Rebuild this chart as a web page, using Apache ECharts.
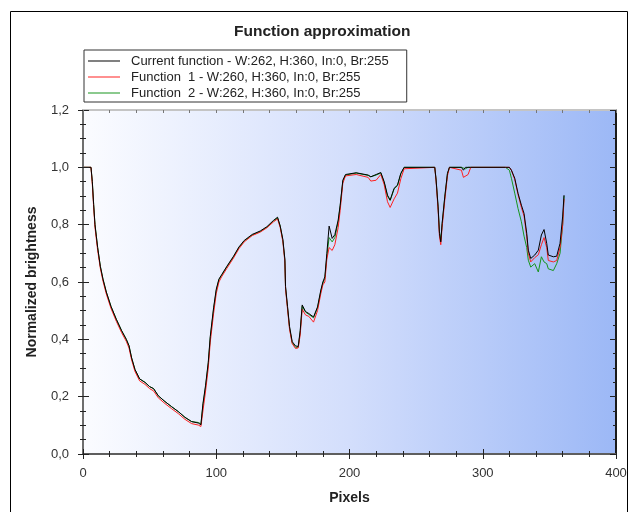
<!DOCTYPE html>
<html>
<head>
<meta charset="utf-8">
<script src="https://cdn.jsdelivr.net/npm/echarts@6/dist/echarts.min.js"></script>
<style>
  html, body { margin: 0; padding: 0; background: #fff; }
  #chart { width: 630px; height: 512px; }
</style>
</head>
<body>
<div id="chart"></div>
<script>
// sample positions (pixels) shared by the three curves
const pixels = [
  0, 6, 7, 8, 9, 10, 11, 13, 15, 17.5, 21, 25, 29, 32.5, 34.5, 36.5, 39, 42.5, 46.5, 50,
  53, 56.5, 61.5, 66.5, 71.5, 76.5, 81.5, 86.5, 88.5, 90, 92, 94, 95.5, 98, 100, 102, 104, 108, 113, 117,
  121, 127, 133, 138, 143, 146, 148, 150, 151.5, 152, 153.5, 155, 157, 159.5, 161.5, 163, 164.5, 167, 169.5, 173,
  176, 178.5, 180, 181.5, 183, 184.7, 187, 189, 191.5, 193, 195, 197, 205, 214, 216, 220, 223.5, 226, 228.5, 230.5,
  233.5, 236, 238.5, 241, 264, 265, 266.5, 267.5, 268.5, 269.5, 271.5, 273.5, 275, 284, 285.5, 287, 289, 291, 317, 320,
  321.5, 324, 326.5, 329, 331, 333, 334.2, 336, 339, 341.7, 344, 346, 348, 349.2, 353, 355.5, 358, 360, 361
];
const currentFn = [
  1.0, 1.0, 0.95, 0.87, 0.8, 0.76, 0.72, 0.655, 0.61, 0.565, 0.515, 0.47, 0.43, 0.4, 0.378, 0.335, 0.295, 0.262, 0.25, 0.235,
  0.228, 0.203, 0.183, 0.165, 0.148, 0.128, 0.113, 0.108, 0.102, 0.175, 0.24, 0.32, 0.41, 0.51, 0.575, 0.61, 0.625, 0.655, 0.69, 0.722,
  0.745, 0.766, 0.778, 0.793, 0.815, 0.826, 0.795, 0.748, 0.68, 0.585, 0.515, 0.445, 0.392, 0.377, 0.375, 0.43, 0.52, 0.497, 0.49, 0.478,
  0.513, 0.572, 0.6, 0.618, 0.7, 0.795, 0.752, 0.765, 0.816, 0.868, 0.955, 0.975, 0.981, 0.973, 0.967, 0.975, 0.982, 0.95, 0.903, 0.886,
  0.927, 0.938, 0.979, 1.0, 1.0, 0.956, 0.862, 0.77, 0.74, 0.804, 0.897, 0.979, 1.0, 1.0, 0.99, 1.0, 1.0, 1.0, 1.0, 1.0,
  0.99, 0.962, 0.909, 0.868, 0.839, 0.77, 0.711, 0.682, 0.694, 0.711, 0.764, 0.783, 0.735, 0.694, 0.688, 0.69, 0.735, 0.83, 0.903
];
const function1 = [
  1.0, 1.0, 0.94, 0.86, 0.79, 0.75, 0.71, 0.648, 0.603, 0.558, 0.508, 0.463, 0.423, 0.393, 0.37, 0.328, 0.288, 0.255, 0.243, 0.228,
  0.22, 0.196, 0.176, 0.158, 0.141, 0.121, 0.106, 0.101, 0.096, 0.15, 0.22, 0.3, 0.39, 0.49, 0.56, 0.6, 0.618, 0.648, 0.684, 0.716,
  0.74, 0.762, 0.774, 0.789, 0.81, 0.82, 0.79, 0.74, 0.67, 0.575, 0.505, 0.435, 0.385, 0.368, 0.37, 0.415, 0.505, 0.485, 0.48, 0.46,
  0.5, 0.56, 0.59, 0.6, 0.68, 0.72, 0.71, 0.73, 0.79, 0.85, 0.945, 0.97, 0.975, 0.965, 0.952, 0.955, 0.975, 0.94, 0.88, 0.86,
  0.89, 0.91, 0.96, 0.995, 1.0, 0.95, 0.85, 0.76, 0.73, 0.79, 0.885, 0.97, 1.0, 0.99, 0.965, 0.96, 0.975, 1.0, 1.0, 1.0,
  0.99, 0.958, 0.905, 0.86, 0.83, 0.76, 0.7, 0.67, 0.685, 0.695, 0.73, 0.755, 0.72, 0.675, 0.67, 0.675, 0.72, 0.8, 0.89
];
const function2 = [
  1.0, 1.0, 0.95, 0.87, 0.8, 0.76, 0.72, 0.655, 0.61, 0.565, 0.515, 0.47, 0.43, 0.4, 0.378, 0.335, 0.295, 0.262, 0.25, 0.235,
  0.228, 0.203, 0.183, 0.165, 0.148, 0.128, 0.113, 0.11, 0.105, 0.17, 0.235, 0.315, 0.405, 0.505, 0.57, 0.608, 0.623, 0.653, 0.688, 0.72,
  0.743, 0.764, 0.776, 0.791, 0.813, 0.824, 0.795, 0.745, 0.675, 0.58, 0.51, 0.44, 0.388, 0.372, 0.372, 0.425, 0.515, 0.495, 0.487, 0.475,
  0.51, 0.568, 0.596, 0.612, 0.69, 0.755, 0.74, 0.755, 0.81, 0.865, 0.952, 0.973, 0.98, 0.972, 0.967, 0.973, 0.98, 0.948, 0.9, 0.884,
  0.925, 0.936, 0.977, 1.0, 1.0, 0.955, 0.86, 0.775, 0.745, 0.8, 0.895, 0.977, 1.0, 1.0, 1.0, 0.995, 1.0, 1.0, 1.0, 0.99,
  0.962, 0.91, 0.856, 0.81, 0.76, 0.72, 0.676, 0.652, 0.664, 0.635, 0.688, 0.67, 0.664, 0.646, 0.64, 0.664, 0.7, 0.8, 0.9
];
const seriesNames = [
  'Current function - W:262, H:360, In:0, Br:255',
  'Function  1 - W:260, H:360, In:0, Br:255',
  'Function  2 - W:262, H:360, In:0, Br:255'
];

function zip(ys) {
  return pixels.map((x, i) => [x, ys[i]]);
}

const chart = echarts.init(document.getElementById('chart'), null, {renderer: 'canvas'});
const font = 'Liberation Sans';
const tickColor = '#222';
const commaLabel = v => v.toFixed(1).replace('.', ',');

function xAx(extra) {
  return Object.assign({
    type: 'value', min: 0, max: 400, interval: 100, z: 5,
    splitLine: {show: false},
    axisLabel: {show: false},
    axisLine: {show: false}
  }, extra);
}
function yAx(extra) {
  return Object.assign({
    type: 'value', min: 0, max: 1.2, interval: 0.2, z: 5,
    splitLine: {show: false},
    axisLabel: {show: false},
    axisLine: {show: false}
  }, extra);
}

const option = {
  animation: false,
  backgroundColor: '#fff',
  textStyle: {fontFamily: font},
  title: {
    text: 'Function approximation',
    left: 234, top: 24, padding: 0,
    textStyle: {fontSize: 15.5, fontWeight: 'bold', color: '#222', fontFamily: font}
  },
  legend: {
    orient: 'vertical',
    left: 84, top: 50,
    data: seriesNames,
    icon: 'rect', itemWidth: 32, itemHeight: 1,
    itemGap: 2,
    padding: [4, 18, 2, 4],
    borderColor: '#333', borderWidth: 1,
    textStyle: {fontSize: 13, color: '#222', fontFamily: font, lineHeight: 14, padding: [0, 0, 0, 6]}
  },
  graphic: [{
    type: 'rect', silent: true,
    shape: {x: 10.5, y: 11.5, width: 617, height: 600},
    style: {fill: 'none', stroke: '#000', lineWidth: 1}
  }],
  grid: {
    left: 83, right: 14, top: 110, bottom: 58,
    show: true, borderWidth: 0, z: 0,
    backgroundColor: new echarts.graphic.LinearGradient(0, 0, 1, 0, [
      {offset: 0, color: '#fbfcff'},
      {offset: 0.5, color: '#d3defc'},
      {offset: 1, color: '#9cb8f6'}
    ])
  },
  xAxis: [
    xAx({
      position: 'bottom',
      axisLine: {show: true, onZero: false, lineStyle: {color: '#5e5e5e', width: 2}},
      axisTick: {length: 5, lineStyle: {color: tickColor}},
      minorTick: {show: true, splitNumber: 5, length: 3, lineStyle: {color: tickColor}},
      axisLabel: {show: true, margin: 13, fontSize: 13, color: '#333', fontFamily: font},
      name: 'Pixels', nameLocation: 'middle', nameGap: 37,
      nameTextStyle: {fontWeight: 'bold', fontSize: 14, color: '#222', fontFamily: font}
    }),
    xAx({
      position: 'bottom',
      axisTick: {inside: true, length: 5, lineStyle: {color: tickColor}},
      minorTick: {show: true, splitNumber: 5, length: 3, lineStyle: {color: tickColor}}
    }),
    xAx({
      position: 'top',
      axisLine: {show: true, onZero: false, lineStyle: {color: '#c4c4c4', width: 2}},
      axisTick: {inside: true, length: 3, lineStyle: {color: '#777'}},
      minorTick: {show: true, splitNumber: 5, length: 3, lineStyle: {color: '#777'}}
    })
  ],
  yAxis: [
    yAx({
      position: 'left',
      axisLine: {show: true, onZero: false, lineStyle: {color: '#6e6e6e', width: 2}},
      axisTick: {length: 5, lineStyle: {color: tickColor}},
      minorTick: {show: true, splitNumber: 4, length: 3, lineStyle: {color: tickColor}},
      axisLabel: {show: true, margin: 14, fontSize: 13, color: '#333', fontFamily: font, formatter: commaLabel},
      name: 'Normalized brightness', nameLocation: 'middle', nameGap: 44,
      nameTextStyle: {fontWeight: 'bold', fontSize: 14, color: '#222', fontFamily: font}
    }),
    yAx({
      position: 'left',
      axisTick: {inside: true, length: 6, lineStyle: {color: tickColor}},
      minorTick: {show: true, splitNumber: 4, length: 3, lineStyle: {color: tickColor}}
    }),
    yAx({
      position: 'right',
      axisLine: {show: true, onZero: false, lineStyle: {color: '#1a1a1a', width: 2}},
      axisTick: {inside: true, length: 6, lineStyle: {color: tickColor}},
      minorTick: {show: true, splitNumber: 4, length: 3, lineStyle: {color: tickColor}}
    })
  ],
  series: [
    {name: seriesNames[2], type: 'line', data: zip(function2), color: '#17951c',
      symbol: 'none', lineStyle: {width: 1}, z: 2},
    {name: seriesNames[1], type: 'line', data: zip(function1), color: '#ff2020',
      symbol: 'none', lineStyle: {width: 1}, z: 3},
    {name: seriesNames[0], type: 'line', data: zip(currentFn), color: '#000000',
      symbol: 'none', lineStyle: {width: 1}, z: 4}
  ]
};
chart.setOption(option);
</script>
</body>
</html>
